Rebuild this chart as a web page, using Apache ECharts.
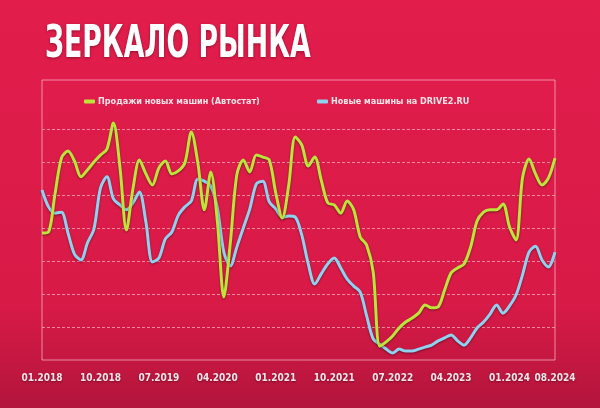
<!DOCTYPE html>
<html>
<head>
<meta charset="utf-8">
<script src="https://cdn.jsdelivr.net/npm/echarts@6/dist/echarts.min.js"></script>
<style>html,body{margin:0;padding:0;background:#d81a47}#c{width:600px;height:408px}</style>
</head>
<body>
<div id="c"></div>
<script>
// monthly categories 01.2018 .. 08.2024
const months = [];
for (let y = 2018; y <= 2024; y++) {
  for (let m = 1; m <= 12; m++) {
    if (y === 2024 && m > 8) break;
    months.push((m < 10 ? '0' + m : '' + m) + '.' + y);
  }
}
const tickLabels = ['01.2018','10.2018','07.2019','04.2020','01.2021','10.2021','07.2022','04.2023','01.2024','08.2024'];

const seriesNames = ['Продажи новых машин (Автостат)', 'Новые машины на DRIVE2.RU'];

const salesAutostat = [38.5,38.8,50.3,61.2,63.3,60.3,55.5,57.6,60.0,62.1,63.9,71.8,58.5,39.4,51.8,60.6,56.4,53.0,58.2,60.3,
  56.4,57.3,59.7,69.1,59.7,45.5,57.0,42.1,19.1,35.5,56.1,60.6,57.0,62.1,61.5,60.6,50.6,43.0,53.0,67.6,
  65.2,58.8,61.5,54.5,47.6,47.0,44.5,48.2,45.5,37.3,34.8,26.7,4.2,5.5,7.3,9.7,11.5,12.7,14.2,16.7,
  15.8,16.1,21.2,26.4,27.9,29.1,34.2,42.1,44.8,45.5,45.5,47.3,40.3,36.4,55.2,60.9,56.4,53.0,55.2,61.2];

const drive2New = [51.5,46.4,44.5,44.8,38.5,32.1,30.3,35.5,39.7,52.1,55.5,48.8,47.0,45.5,47.6,50.9,41.8,29.7,30.9,36.7,
  38.8,43.9,46.4,48.2,54.8,54.2,52.7,46.1,32.7,28.5,34.2,40.0,45.8,53.3,54.2,47.9,45.8,43.3,43.6,43.3,
  37.9,29.1,23.0,26.1,29.1,30.9,27.9,24.5,22.4,20.6,13.3,6.4,4.8,3.3,2.1,3.3,2.7,2.7,3.3,3.9,
  4.5,5.8,6.7,7.6,5.8,4.5,6.7,9.7,11.5,13.9,16.7,14.2,16.4,19.7,25.8,32.7,34.5,30.3,28.2,32.7];

const chart = echarts.init(document.getElementById('c'), null, {renderer: 'canvas'});
const gl = 'rgba(255,225,232,0.55)';
const gridColors = ['rgba(0,0,0,0)', gl, gl, gl, gl, gl, gl, gl, 'rgba(0,0,0,0)', 'rgba(0,0,0,0)'];
const narrow = '"DejaVu Sans Condensed", "Liberation Sans Narrow", sans-serif';

chart.setOption({
  animation: false,
  backgroundColor: {
    type: 'linear', x: 0, y: 0, x2: 0, y2: 1,
    colorStops: [{offset: 0, color: '#e21d4c'}, {offset: 0.75, color: '#d81a47'}, {offset: 1, color: '#b3153c'}]
  },
  graphic: [{
    type: 'text', left: 45, top: 23, scaleX: 0.66,
    style: {
      text: 'ЗЕРКАЛО РЫНКА', fill: '#ffffff',
      font: 'bold 45px ' + narrow,
      textShadowColor: 'rgba(60,0,10,0.45)', textShadowBlur: 3, textShadowOffsetY: 1
    }
  }],
  legend: [{
    data: [seriesNames[0]], left: 79, top: 92, icon: 'roundRect', itemWidth: 11, itemHeight: 4, itemGap: 6,
    textStyle: {color: '#f4e4e8', fontFamily: narrow, fontSize: 9, fontWeight: 'bold', padding: [0, 0, 0, -2]}
  }, {
    data: [seriesNames[1]], left: 312, top: 92, icon: 'roundRect', itemWidth: 11, itemHeight: 4, itemGap: 6,
    textStyle: {color: '#f4e4e8', fontFamily: narrow, fontSize: 9, fontWeight: 'bold', padding: [0, 0, 0, -2]}
  }],
  grid: {left: 42, right: 45, top: 80, bottom: 48, show: true, borderColor: 'rgba(255,220,228,0.6)', borderWidth: 1, containLabel: false},
  xAxis: {
    type: 'category', data: months, boundaryGap: false,
    axisLine: {show: false}, axisTick: {show: false},
    axisLabel: {
      interval: function (i, v) { return tickLabels.indexOf(v) >= 0; },
      showMaxLabel: true, hideOverlap: false,
      color: '#f3e6ea', fontFamily: narrow, fontSize: 10, fontWeight: 'bold', margin: 13,
      textShadowColor: 'rgba(60,0,10,0.5)', textShadowBlur: 2, textShadowOffsetY: 1
    },
    splitLine: {show: false}
  },
  yAxis: {
    type: 'value', min: 0, max: 84.85, interval: 10,
    axisLine: {show: false}, axisTick: {show: false}, axisLabel: {show: false},
    splitLine: {show: true, lineStyle: {color: gridColors, type: [3, 2], width: 1}}
  },
  series: [{
    name: seriesNames[0], type: 'line', data: salesAutostat, smooth: 0.3, showSymbol: false,
    itemStyle: {color: '#bde43a'},
    lineStyle: {color: '#bde43a', width: 3, shadowColor: 'rgba(40,20,0,0.55)', shadowBlur: 2, shadowOffsetY: 1},
    z: 3
  }, {
    name: seriesNames[1], type: 'line', data: drive2New, smooth: 0.3, showSymbol: false,
    itemStyle: {color: '#8fd2ef'},
    lineStyle: {color: '#8fd2ef', width: 3, shadowColor: 'rgba(40,0,20,0.5)', shadowBlur: 2, shadowOffsetY: 1},
    z: 2
  }]
});
</script>
</body>
</html>
